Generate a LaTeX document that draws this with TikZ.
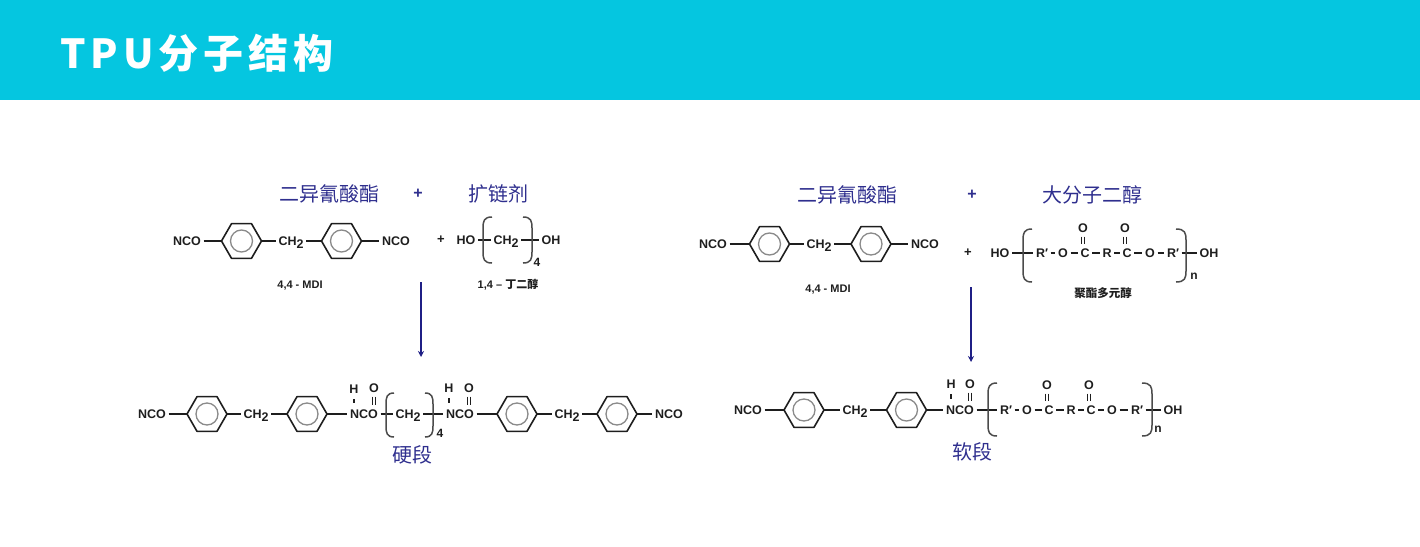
\documentclass[tikz,border=0pt]{standalone}
\usepackage{fontspec}
\setmainfont{Liberation Sans}
\newfontfamily\cjk{Noto Sans CJK SC}
\newfontfamily\titlefont[LetterSpace=12.5]{Noto Sans CJK SC}
\usetikzlibrary{arrows.meta}
\definecolor{barcol}{HTML}{05C6E0}
\definecolor{navyc}{HTML}{2F2F8E}
\definecolor{arrowc}{HTML}{1F1F85}
\definecolor{inkc}{HTML}{1E1E1E}
\definecolor{greyc}{HTML}{8A8A8A}
\newcommand{\chii}{CH\smash{\raisebox{-3.5pt}{2}}}
\newcommand{\ringat}[3]{%
  \node[ringnode] (#1) at (#2,#3) {};
  \draw[ringline] (#1.0)--(#1.60)--(#1.120)--(#1.180)--(#1.240)--(#1.300)--cycle;
  \draw[ringin] (#1.center) circle (11pt);}
\newcommand{\lbrk}[4]{\draw[brk] (#2,#3) .. controls (#1+1,#3) and (#1,#3+4) .. (#1,#3+11) -- (#1,#4-11) .. controls (#1,#4-4) and (#1+1,#4) .. (#2,#4);}
\newcommand{\rbrk}[4]{\draw[brk] (#1,#3) .. controls (#2-1,#3) and (#2,#3+4) .. (#2,#3+11) -- (#2,#4-11) .. controls (#2,#4-4) and (#2-1,#4) .. (#1,#4);}
\newcommand{\dbl}[2]{%
  \draw[thinb,shorten <=1.5pt,shorten >=2pt] ([xshift=-1.6pt]#1.south) -- ([xshift=-1.6pt]#1.south |- #2.north);
  \draw[thinb,shorten <=1.5pt,shorten >=2pt] ([xshift=1.6pt]#1.south) -- ([xshift=1.6pt]#1.south |- #2.north);}
\newcommand{\sgl}[2]{\draw[thinb,shorten <=3pt,shorten >=3.5pt] (#1.south) -- (#1.south |- #2.north);}
\tikzset{
  chem/.style={font=\fontsize{12.5}{12.5}\selectfont\bfseries,text=inkc,inner sep=2.5pt,text height=8.9pt,text depth=0pt,anchor=center},
  subs/.style={font=\fontsize{12}{12}\selectfont\bfseries,text=inkc,inner sep=0pt},
  capt/.style={font=\fontsize{11}{11}\selectfont\bfseries,text=inkc,inner sep=0pt},
  headt/.style={font=\cjk\fontsize{20}{20}\selectfont,text=navyc,inner sep=0pt},
  ringnode/.style={circle,minimum size=40pt,inner sep=0pt,outer sep=0pt},
  ringline/.style={draw=inkc,line width=1.6pt,line join=round},
  ringin/.style={draw=greyc,line width=1.3pt},
  bond/.style={draw=inkc,line width=1.6pt},
  thinb/.style={draw=inkc,line width=1.3pt},
  brk/.style={draw=inkc!80,line width=1.5pt},
  flow/.style={draw=arrowc,line width=1.4pt,-{Stealth[length=6pt,width=6pt]}},
}
\begin{document}
\begin{tikzpicture}[x=1pt,y=-1pt]
\useasboundingbox (0,0) rectangle (1420,546);
\fill[barcol] (0,0) rectangle (1420,100);
\node[anchor=west,inner sep=0pt,text=white,font=\titlefont\bfseries\fontsize{40}{40}\selectfont] (title) at (60,53) {TPU分子结构};

% ---------- top left
\node[headt] (h1) at (329,194) {二异氰酸酯};
\node[headt,font=\bfseries\fontsize{16}{16}\selectfont] (p1) at (418,194) {+};
\node[headt] (h2) at (498,194) {扩链剂};
\node[chem] (a1) at (187,241) {NCO};
\ringat{a2}{241.5}{241}
\node[chem] (a3) at (291,241) {\chii};
\ringat{a4}{341.5}{241}
\node[chem] (a5) at (396,241) {NCO};
\draw[bond] (a1) -- (a2.180);
\draw[bond] (a2.0) -- (a3);
\draw[bond] (a3) -- (a4.180);
\draw[bond] (a4.0) -- (a5);
\node[chem,font=\fontsize{13}{13}\selectfont\bfseries] (a6) at (441,239.5) {+};
\node[chem] (a7) at (466,240) {HO};
\node[chem] (a8) at (506,240) {\chii};
\node[chem] (a9) at (551,240) {OH};
\draw[bond] (a7) -- (a8);
\draw[bond] (a8) -- (a9);
\lbrk{483}{492}{217}{263}
\rbrk{523}{532}{217}{263}
\node[subs] (a10) at (537,262) {4};
\node[capt] (a11) at (300,286) {4,4 - MDI};
\node[capt] (a12) at (508,285) {1,4 – {\cjk\fontsize{11}{11}\selectfont 丁二醇}};
\coordinate (a13) at (421,282);
\coordinate (a14) at (421,357);
\draw[flow] (a13) -- (a14);

% ---------- top right
\node[headt] (h3) at (847,195) {二异氰酸酯};
\node[headt,font=\bfseries\fontsize{16}{16}\selectfont] (p2) at (972,195) {+};
\node[headt] (h4) at (1092,195) {大分子二醇};
\node[chem] (b1) at (713,244) {NCO};
\ringat{b2}{769.5}{244}
\node[chem] (b3) at (819,244) {\chii};
\ringat{b4}{871}{244}
\node[chem] (b5) at (925,244) {NCO};
\draw[bond] (b1) -- (b2.180);
\draw[bond] (b2.0) -- (b3);
\draw[bond] (b3) -- (b4.180);
\draw[bond] (b4.0) -- (b5);
\node[chem,font=\fontsize{13}{13}\selectfont\bfseries] (b6) at (968,252) {+};
\node[chem] (b7) at (1000,253) {HO};
\node[chem] (b8) at (1042,253) {R′};
\node[chem] (b9) at (1063,253) {O};
\node[chem] (b10) at (1085,253) {C};
\node[chem] (b11) at (1083,228) {O};
\node[chem] (b12) at (1107,253) {R};
\node[chem] (b13) at (1127,253) {C};
\node[chem] (b14) at (1125,228) {O};
\node[chem] (b15) at (1150,253) {O};
\node[chem] (b16) at (1173,253) {R′};
\node[chem] (b17) at (1209,253) {OH};
\draw[bond] (b7) -- (b8);
\draw[thinb] (b8) -- (b9);
\draw[thinb] (b9) -- (b10);
\draw[thinb] (b10) -- (b12);
\draw[thinb] (b12) -- (b13);
\draw[thinb] (b13) -- (b15);
\draw[thinb] (b15) -- (b16);
\draw[bond] (b16) -- (b17);
\dbl{b11}{b10}
\dbl{b14}{b13}
\lbrk{1023}{1032}{229}{282}
\rbrk{1176}{1186}{229}{282}
\node[subs] (b18) at (1194,276) {n};
\node[capt] (b19) at (828,290) {4,4 - MDI};
\node[capt,font=\cjk\bfseries\fontsize{11.5}{11.5}\selectfont] (b20) at (1103,293) {聚酯多元醇};
\coordinate (b21) at (971,287);
\coordinate (b22) at (971,362);
\draw[flow] (b21) -- (b22);

% ---------- bottom left
\node[chem] (c1) at (152,414) {NCO};
\ringat{c2}{207}{414}
\node[chem] (c3) at (256,414) {\chii};
\ringat{c4}{307}{414}
\node[chem] (c5) at (364,414) {NCO};
\node[chem] (c6) at (354,389) {H};
\node[chem] (c7) at (374,388) {O};
\node[chem] (c8) at (408,414) {\chii};
\node[chem] (c9) at (460,414) {NCO};
\node[chem] (c10) at (449,388) {H};
\node[chem] (c11) at (469,388) {O};
\ringat{c12}{517}{414}
\node[chem] (c13) at (567,414) {\chii};
\ringat{c14}{617}{414}
\node[chem] (c15) at (669,414) {NCO};
\draw[bond] (c1) -- (c2.180);
\draw[bond] (c2.0) -- (c3);
\draw[bond] (c3) -- (c4.180);
\draw[bond] (c4.0) -- (c5);
\sgl{c6}{c5}
\dbl{c7}{c5}
\draw[bond] (c5) -- (c8);
\draw[bond] (c8) -- (c9);
\sgl{c10}{c9}
\dbl{c11}{c9}
\draw[bond] (c9) -- (c12.180);
\draw[bond] (c12.0) -- (c13);
\draw[bond] (c13) -- (c14.180);
\draw[bond] (c14.0) -- (c15);
\lbrk{386}{394}{393}{437}
\rbrk{425}{433}{393}{437}
\node[subs] (c16) at (440,433) {4};
\node[headt] (c17) at (412,455) {硬段};

% ---------- bottom right
\node[chem] (d1) at (748,410) {NCO};
\ringat{d2}{804}{410}
\node[chem] (d3) at (855,410) {\chii};
\ringat{d4}{906.5}{410}
\node[chem] (d5) at (960,410) {NCO};
\node[chem] (d6) at (951,384) {H};
\node[chem] (d7) at (970,384) {O};
\node[chem] (d8) at (1006,410) {R′};
\node[chem] (d9) at (1027,410) {O};
\node[chem] (d10) at (1049,410) {C};
\node[chem] (d11) at (1047,385) {O};
\node[chem] (d12) at (1071,410) {R};
\node[chem] (d13) at (1091,410) {C};
\node[chem] (d14) at (1089,385) {O};
\node[chem] (d15) at (1112,410) {O};
\node[chem] (d16) at (1137,410) {R′};
\node[chem] (d17) at (1173,410) {OH};
\draw[bond] (d1) -- (d2.180);
\draw[bond] (d2.0) -- (d3);
\draw[bond] (d3) -- (d4.180);
\draw[bond] (d4.0) -- (d5);
\sgl{d6}{d5}
\dbl{d7}{d5}
\draw[bond] (d5) -- (d8);
\draw[thinb] (d8) -- (d9);
\draw[thinb] (d9) -- (d10);
\draw[thinb] (d10) -- (d12);
\draw[thinb] (d12) -- (d13);
\draw[thinb] (d13) -- (d15);
\draw[thinb] (d15) -- (d16);
\draw[bond] (d16) -- (d17);
\dbl{d11}{d10}
\dbl{d14}{d13}
\lbrk{988}{997}{383}{436}
\rbrk{1142}{1152}{383}{436}
\node[subs] (d18) at (1158,429) {n};
\node[headt] (d19) at (972,452) {软段};
\end{tikzpicture}
\end{document}
